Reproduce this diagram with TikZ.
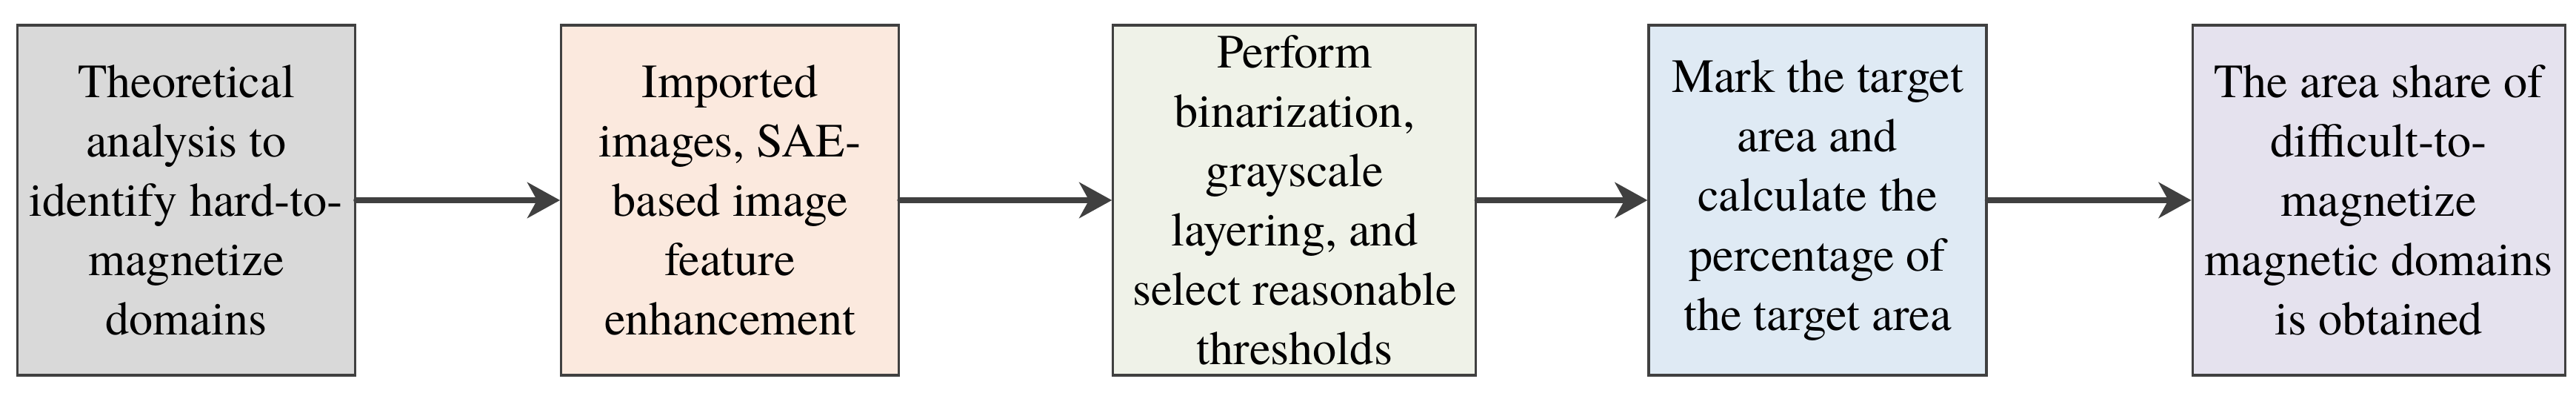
\documentclass[tikz,border=0pt]{standalone}
\usepackage{fontspec}
\setmainfont{texgyretermes-regular.otf}
\newfontfamily\stagefont{texgyretermes-regular.otf}
\usepackage{xcolor}
\usetikzlibrary{positioning,arrows.meta}
\definecolor{linecolor}{HTML}{404040}
\definecolor{theorycolor}{HTML}{D9D9D9}
\definecolor{importcolor}{HTML}{FBE9DE}
\definecolor{binarycolor}{HTML}{EFF2E8}
\definecolor{markcolor}{HTML}{DFEAF4}
\definecolor{sharecolor}{HTML}{E5E2EE}

\begin{document}
\begin{tikzpicture}[
    node distance=2.75cm,
    every node/.style={font=\stagefont\fontsize{18.3}{22.8}\selectfont},
    stage/.style={rectangle, draw=linecolor, line width=0.9pt, align=center, text centered, minimum width=4.56cm, minimum height=4.72cm, inner sep=0pt},
    arrow/.style={-{Stealth[length=4.4mm, width=4.8mm, inset=1.3mm]}, line width=2.2pt, draw=linecolor, fill=linecolor, line cap=round}
]
\useasboundingbox (0,0) rectangle (34.78,5.33);

% Step 1: Theory
\node[stage, fill=theorycolor] (theory) at (2.515,2.63) {Theoretical\\analysis to\\identify hard-to-\\magnetize\\domains};

% Step 2: Image import
\node[stage, fill=importcolor, right=2.75cm of theory] (import) {Imported\\images, SAE-\\based image\\feature\\enhancement};

% Step 3: Binarization
\node[stage, fill=binarycolor, minimum width=4.9cm, right=2.86cm of import] (binary) {Perform\\binarization,\\grayscale\\layering, and\\select reasonable\\thresholds};

% Step 4: Target area
\node[stage, fill=markcolor, right=2.3cm of binary] (mark) {Mark the target\\area and\\calculate the\\percentage of\\the target area};

% Result
\node[stage, fill=sharecolor, minimum width=5.03cm, right=2.75cm of mark] (share) {The area share of\\difficult-to-\\magnetize\\magnetic domains\\is obtained};

% Arrows
\draw[arrow] (theory) -- (import);
\draw[arrow] (import) -- (binary);
\draw[arrow] (binary) -- (mark);
\draw[arrow] (mark) -- (share);

\end{tikzpicture}
\end{document}
